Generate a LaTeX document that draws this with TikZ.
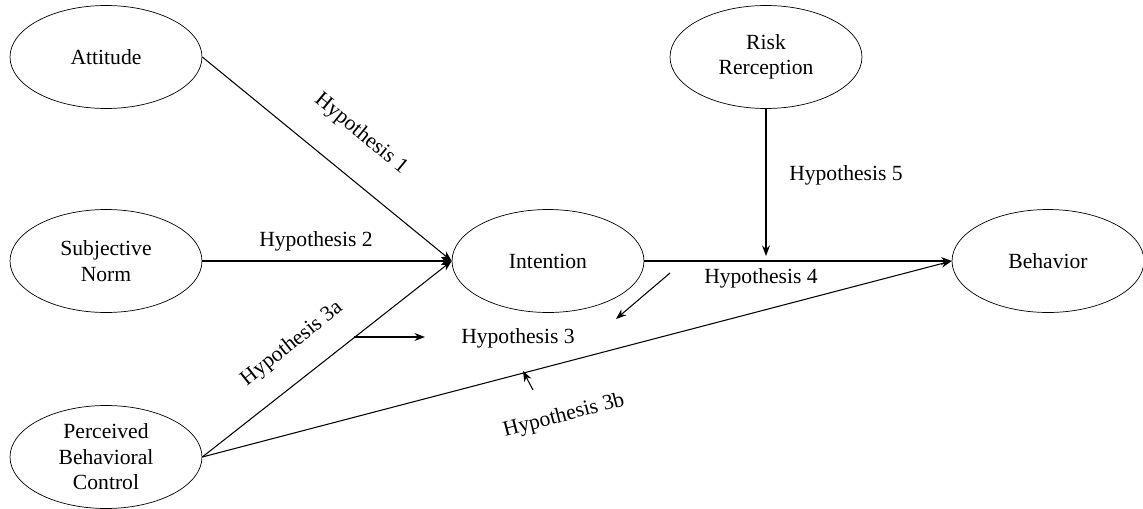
\documentclass[tikz,border=0pt]{standalone}
\usepackage{fontspec}
\setmainfont{Liberation Serif}
\usetikzlibrary{shapes.geometric,arrows.meta}

\begin{document}
\begin{tikzpicture}[x=0.02cm,y=-0.02cm,
		var/.style={draw,ellipse,minimum width=3.84cm,minimum height=2.06cm,inner sep=0pt,align=center,font=\fontsize{12.3}{14.5}\selectfont},
		hyp/.style={font=\fontsize{12.3}{14.5}\selectfont,inner sep=1pt},
		arr/.style={-{Stealth[length=6pt,width=4.5pt]},line width=0.6pt}]
			\useasboundingbox (0,0) rectangle (1143,508);
			\node[var] (att) at (106,57) {Attitude};
			\node[var] (sn) at (106,261) {Subjective\\Norm};
			\node[var] (pbc) at (106,457) {Perceived\\Behavioral\\Control};
			\node[var] (int) at (548,261) {Intention};
			\node[var] (rr) at (766,57) {Risk\\Rerception};
			\node[var] (beh) at (1048,261) {Behavior};

			\coordinate (m) at (766,256);
			\coordinate (a1) at (354,337);
			\coordinate (b1) at (425,337);
			\coordinate (a2) at (670,273);
			\coordinate (b2) at (616,319);
			\coordinate (a3) at (533,390);
			\coordinate (b3) at (523,371);

			\draw[arr] (att.east) -- (int.west);
			\draw[arr] (sn.east) -- (int.west);
			\draw[arr] (pbc.east) -- (int.west);
			\draw[arr] (pbc.east) -- (beh.west);
			\draw[arr] (int.east) -- (beh.west);
			\draw[arr] (rr.south) -- (m);
			\draw[arr] (a1) -- (b1);
			\draw[arr] (a2) -- (b2);
			\draw[arr] (a3) -- (b3);

			\node[hyp,rotate=-39.4] (h1) at (361,134) {Hypothesis 1};
			\node[hyp] (h2) at (316,241) {Hypothesis 2};
			\node[hyp,rotate=38.4] (h3a) at (292,344) {Hypothesis 3a};
			\node[hyp] (h3) at (518,338) {Hypothesis 3};
			\node[hyp,rotate=14.6] (h3b) at (564,416) {Hypothesis 3b};
			\node[hyp] (h4) at (761,278) {Hypothesis 4};
			\node[hyp] (h5) at (846,175) {Hypothesis 5};
\end{tikzpicture}
\end{document}
